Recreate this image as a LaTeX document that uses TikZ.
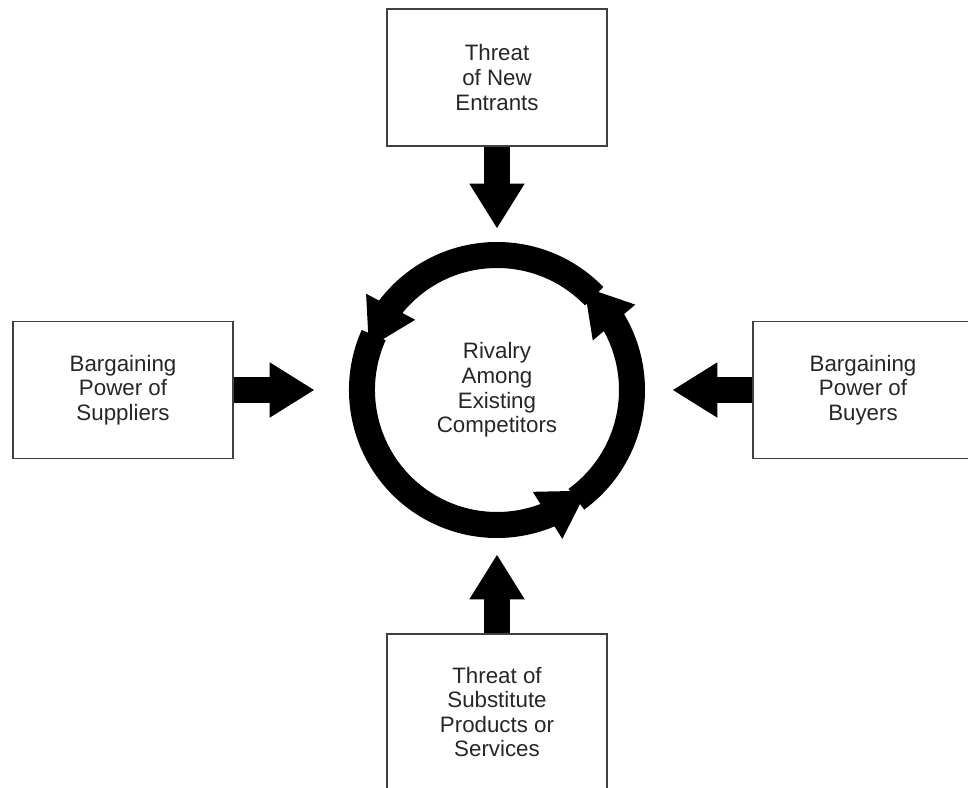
\documentclass[tikz,border=0pt]{standalone}
\usepackage{fontspec}
\setmainfont{Liberation Sans}
\usetikzlibrary{arrows.meta,bending}

\begin{document}
\begin{tikzpicture}[
    x=0.2mm, y=0.2mm,
    force/.style={draw=black!75, line width=1pt, minimum width=44mm, minimum height=27.4mm, align=center, font=\fontsize{12.7}{14}\selectfont, text=black!85},
    push/.style={line width=5.2mm, -{Triangle[width=10.4mm, length=9mm]}},
    ringarrow/.style={line width=5.2mm, -{Triangle[width=10.4mm, length=9.4mm, flex]}}
]
\useasboundingbox (0,0) rectangle (968,787);
\clip (0,0) rectangle (968,787);
\node[circle, minimum size=59.2mm, align=center, font=\fontsize{12.7}{14}\selectfont, text=black!85] (rivalry) at (497,397) {Rivalry\\Among\\Existing\\Competitors};
\node[force] (entrants) at (497,709.5) {Threat\\of New\\Entrants};
\node[force] (suppliers) at (123,397) {Bargaining\\Power of\\Suppliers};
\node[force] (buyers) at (863,397) {Bargaining\\Power of\\Buyers};
\node[force, minimum height=31.2mm] (substitutes) at (497,75) {Threat of\\Substitute\\Products or\\Services};

\draw[push, shorten >=2.6mm] (entrants) -- (rivalry);
\draw[push, shorten >=6.8mm] (suppliers) -- (rivalry);
\draw[push, shorten >=5.4mm] (buyers) -- (rivalry);
\draw[push, shorten >=3.2mm] (substitutes) -- (rivalry);

\draw[ringarrow] ([shift={(44:135)}]rivalry.center) arc[start angle=44, end angle=162, radius=135];
\draw[ringarrow] ([shift={(156:135)}]rivalry.center) arc[start angle=156, end angle=312, radius=135];
\draw[ringarrow] ([shift={(306:135)}]rivalry.center) arc[start angle=306, end angle=410, radius=135];
\end{tikzpicture}
\end{document}
